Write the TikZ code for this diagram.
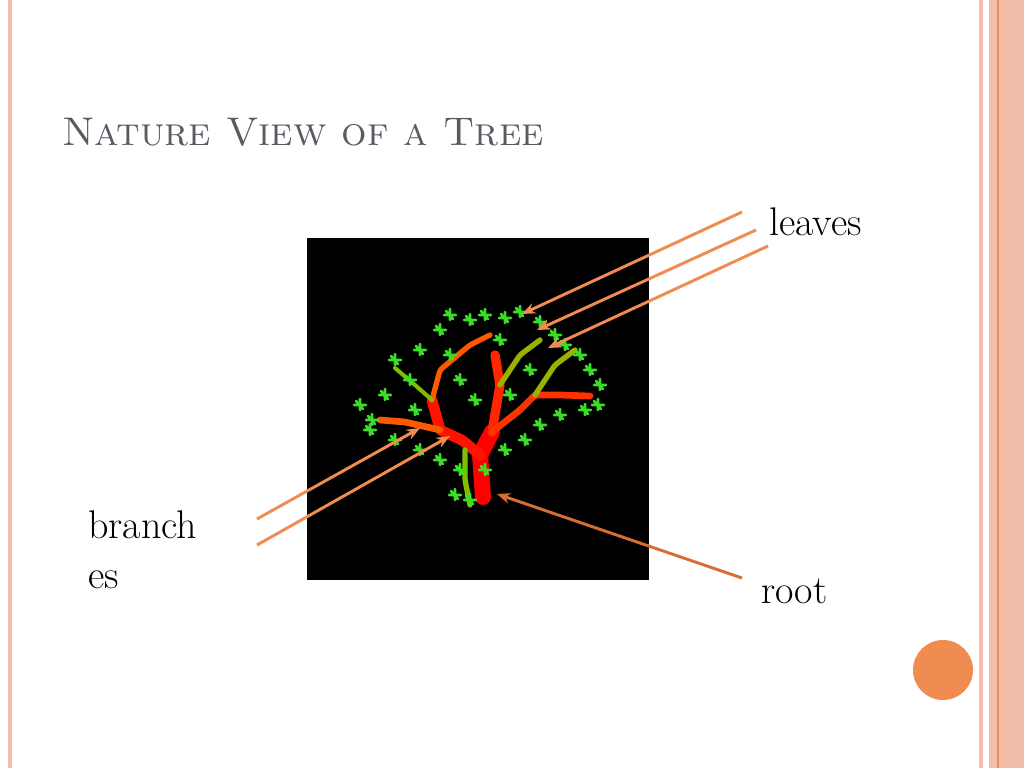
\documentclass[tikz,border=0pt]{standalone}
\usepackage{tikz}
\usetikzlibrary{arrows.meta,positioning}
\definecolor{salmon}{RGB}{242,190,170}
\definecolor{arrorange}{RGB}{240,140,80}
\definecolor{rootorange}{RGB}{214,110,50}
\definecolor{titlegray}{RGB}{90,90,100}
\definecolor{leafgreen}{RGB}{60,220,40}
\tikzset{
  pointer/.style={-{Stealth[length=10pt,width=8pt]}, line width=2.2pt, arrorange},
  label/.style={font=\fontsize{30}{34}\selectfont, anchor=west, inner sep=0pt},
  limb/.style={line cap=round, rounded corners=2pt}
}
\begin{document}
\begin{tikzpicture}[x=0.75pt,y=-0.75pt]
    \useasboundingbox (0,0) rectangle (1024,768);
    % slide frame
    \fill[white] (0,0) rectangle (1024,768);
    \fill[salmon] (8,0) rectangle (12,768);
    \fill[salmon] (979,0) rectangle (983,768);
    \fill[salmon] (989,0) rectangle (1024,768);
    \draw[arrorange, line width=0.8pt] (998,0) -- (998,768);
    \node[circle, fill=arrorange, minimum size=45pt, inner sep=0pt] (dot) at (943,670) {};

    % title
    \node[anchor=west, text=titlegray, font=\fontsize{30}{34}\selectfont\scshape, inner sep=0pt] (title) at (62,132) {Nature View of a Tree};

    % picture
    \node[fill=black, minimum width=256.5pt, minimum height=256.5pt, inner sep=0pt] (pic) at (478,409) {};
    % branches
    \draw[limb, red, line width=12pt] (483,497) -- (480,455) -- (492,432);
    \draw[limb, red!85!orange, line width=8pt] (480,455) -- (462,440) -- (440,430) -- (432,400);
    \draw[limb, red!70!orange, line width=7pt] (492,432) -- (500,385) -- (495,355);
    \draw[limb, red!60!orange, line width=5pt] (492,432) -- (520,410) -- (535,395) -- (560,395) -- (590,396);
    \draw[limb, orange!70!red, line width=5pt] (440,430) -- (405,422) -- (380,420);
    \draw[limb, orange!70!red, line width=4pt] (432,400) -- (440,370) -- (470,345) -- (490,335);
    \draw[limb, orange!60!green, line width=4pt] (500,385) -- (520,355) -- (540,340);
    \draw[limb, orange!60!green, line width=4pt] (535,395) -- (555,365) -- (575,350);
    \draw[limb, orange!50!green, line width=4pt] (465,450) -- (465,480) -- (470,505);
    \draw[limb, orange!50!green, line width=3pt] (432,400) -- (415,385) -- (395,368);
    % leaves
    \foreach \x/\y in {360/405, 372/420, 385/395, 395/360, 410/380, 420/350, 440/330, 450/315, 470/320,
        485/315, 505/318, 520/312, 540/322, 555/335, 565/345, 580/355, 590/370, 600/385, 598/405,
        585/410, 560/415, 540/425, 525/440, 505/450, 460/470, 455/495, 440/460, 420/450, 395/440,
        370/430, 475/400, 460/380, 510/395, 450/355, 530/370, 415/410, 500/340, 470/500, 485/470}
      \draw[leafgreen, line width=2pt, line cap=round]
        (\x-6,\y) -- (\x+6,\y) (\x,\y-6) -- (\x,\y+5) (\x-4,\y-4) -- (\x+3,\y+4);

    % labels
    \node[label] (leaves) at (769,222) {leaves};
    \node[label, align=left, anchor=north west] (branches) at (88,510) {branch\\[4pt]es};
    \node[label] (root) at (761,591) {root};

    % pointers
    \coordinate (l1) at (742,212); \coordinate (l1e) at (522,314);
    \coordinate (l2) at (756,230); \coordinate (l2e) at (537,330);
    \coordinate (l3) at (768,246); \coordinate (l3e) at (548,348);
    \coordinate (b1) at (257,519); \coordinate (b1e) at (420,428);
    \coordinate (b2) at (257,545); \coordinate (b2e) at (450,436);
    \coordinate (r1) at (742,578); \coordinate (r1e) at (497,494);
    \draw[pointer] (l1) -- (l1e);
    \draw[pointer] (l2) -- (l2e);
    \draw[pointer] (l3) -- (l3e);
    \draw[pointer] (b1) -- (b1e);
    \draw[pointer] (b2) -- (b2e);
    \draw[pointer, rootorange] (r1) -- (r1e);
\end{tikzpicture}
\end{document}
